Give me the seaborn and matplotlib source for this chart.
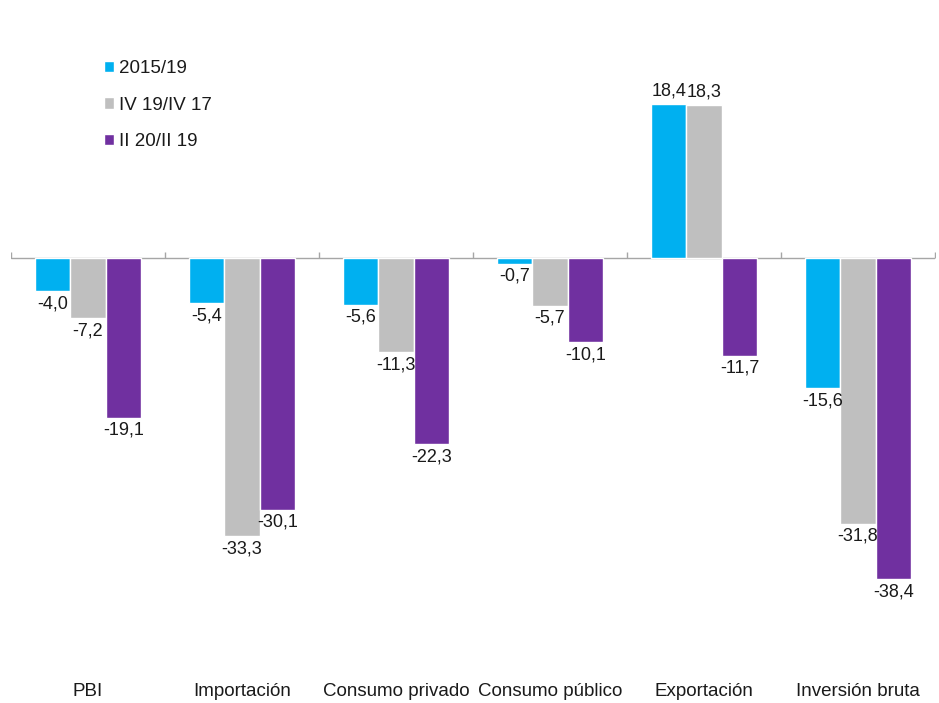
import matplotlib
matplotlib.use("Agg")
import matplotlib.pyplot as plt
import seaborn as sns
import pandas as pd
import numpy as np

categorias = ["PBI", "Importación", "Consumo privado", "Consumo público", "Exportación", "Inversión bruta"]
series = ["2015/19", "IV 19/IV 17", "II 20/II 19"]
v_2015_19 = [-4.0, -5.4, -5.6, -0.7, 18.4, -15.6]
v_iv19_iv17 = [-7.2, -33.3, -11.3, -5.7, 18.3, -31.8]
v_ii20_ii19 = [-19.1, -30.1, -22.3, -10.1, -11.7, -38.4]
colores = ["#00B0F0", "#BFBFBF", "#7030A0"]

valores = [v_2015_19, v_iv19_iv17, v_ii20_ii19]
df = pd.DataFrame({
    "categoria": np.tile(categorias, len(series)),
    "serie": np.repeat(series, len(categorias)),
    "valor": np.concatenate(valores),
})

sns.set_theme(style="white")
plt.rcParams["font.family"] = ["Liberation Sans", "DejaVu Sans"]

fig = plt.figure(figsize=(9.39, 7.03), dpi=100)
ax = fig.add_axes([11 / 939, 27 / 703, 924 / 939, 669 / 703])

sns.barplot(data=df, x="categoria", y="valor", hue="serie", order=categorias,
            hue_order=series, palette=colores, saturation=1, width=0.69,
            gap=0, ax=ax, legend=True)

for cont in ax.containers:
    etiquetas = [f"{b.get_height():.1f}".replace(".", ",") for b in cont]
    ax.bar_label(cont, labels=etiquetas, padding=3, fontsize=13, color="#1a1a1a")

ax.set_ylim(-50, 30)
ax.set_xlim(-0.5, len(categorias) - 0.5)

# zero line with small boundary ticks between groups
ax.axhline(0, color="#A6A6A6", lw=1, zorder=0.5)
limites = np.arange(len(categorias) + 1) - 0.5
ax.plot(limites, np.zeros_like(limites), ls="none", marker=2, ms=4,
        mew=1, color="#A6A6A6", zorder=0.5)

for s in ax.spines.values():
    s.set_visible(False)
ax.set_yticks([])
ax.set_xlabel("")
ax.set_ylabel("")
ax.tick_params(axis="x", length=0, pad=5, labelsize=13.5, labelcolor="#1a1a1a")

leg = ax.legend(loc="upper left", bbox_to_anchor=(0.092, 0.932), frameon=False,
                fontsize=13.5, handlelength=0.55, handleheight=0.55,
                handletextpad=0.25, labelspacing=1.05, borderaxespad=0)
for t in leg.get_texts():
    t.set_color("#1a1a1a")

fig.savefig("out.png", dpi=100, facecolor="white")
